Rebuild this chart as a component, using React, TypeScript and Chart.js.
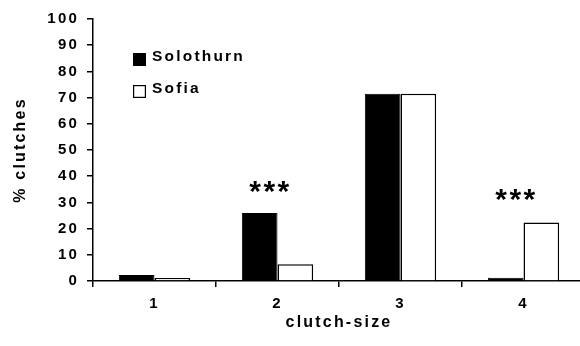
import { useEffect, useRef } from "react";
import { Chart, registerables } from "chart.js";

Chart.register(...registerables);

// Clutch-size distribution (% of clutches) for two populations
const clutchSizes = ["1", "2", "3", "4"];
const solothurn = [2.3, 26, 71.5, 1.2];
const sofia = [1.1, 6.4, 71.5, 22.3];

// Significance marks: category index, label, and height (in % units) of the mark
const sigIndex = [1, 3];
const sigLabels = ["***", "***"];
const sigLevels = [36, 33];

const FONT = "'Liberation Sans', Arial, Helvetica, sans-serif";

const spacingPlugin = {
  id: "letterSpacing",
  beforeDraw(chart: any) {
    (chart.ctx as any).letterSpacing = "2.2px";
  },
};

const legendPlugin = {
  id: "cornerLegend",
  afterDraw(chart: any) {
    const { ctx, chartArea } = chart;
    ctx.save();
    ctx.font = `bold 15.5px ${FONT}`;
    (ctx as any).letterSpacing = "2.2px";
    ctx.textBaseline = "alphabetic";
    ctx.textAlign = "left";
    chart.data.datasets.forEach((ds: any, i: number) => {
      const x = chartArea.left + 40;
      const y = chartArea.top + 34 + i * 32;
      ctx.fillStyle = ds.backgroundColor;
      ctx.fillRect(x, y, 13, 13);
      ctx.strokeStyle = "#000";
      ctx.lineWidth = 1.2;
      ctx.strokeRect(x + 0.6, y + 0.6, 11.8, 11.8);
      ctx.fillStyle = "#000";
      ctx.fillText(ds.label, x + 19, y + 8);
    });
    ctx.restore();
  },
};

const sigPlugin = {
  id: "significance",
  afterDatasetsDraw(chart: any) {
    const { ctx } = chart;
    const xs = chart.scales.x;
    const ys = chart.scales.y;
    const size = 30;
    ctx.save();
    ctx.font = `bold ${size}px ${FONT}`;
    (ctx as any).letterSpacing = "2.5px";
    ctx.fillStyle = "#000";
    ctx.textAlign = "center";
    ctx.textBaseline = "alphabetic";
    sigIndex.forEach((idx, i) => {
      const x = xs.getPixelForValue(idx) - 7;
      const y = ys.getPixelForValue(sigLevels[i]) + size * 0.49;
      ctx.fillText(sigLabels[i], x, y);
    });
    ctx.restore();
  },
};

export default function App() {
  const canvasRef = useRef<HTMLCanvasElement | null>(null);

  useEffect(() => {
    const canvas = canvasRef.current;
    if (!canvas) return;
    const chart = new Chart(canvas, {
      type: "bar",
      data: {
        labels: clutchSizes,
        datasets: [
          {
            label: "Solothurn",
            data: solothurn,
            backgroundColor: "#000000",
            borderColor: "#000000",
            borderWidth: 1,
          },
          {
            label: "Sofia",
            data: sofia,
            backgroundColor: "#ffffff",
            borderColor: "#000000",
            borderWidth: 1.5,
          },
        ],
      },
      options: {
        responsive: false,
        animation: false,
        devicePixelRatio: 1,
        datasets: {
          bar: { categoryPercentage: 0.58, barPercentage: 1.0 },
        },
        layout: { padding: { top: 19, right: 15, left: 0, bottom: 0 } },
        plugins: {
          legend: { display: false },
          tooltip: { enabled: false },
        },
        scales: {
          x: {
            type: "category",
            offset: true,
            afterFit(scale: any) {
              scale.height = 65;
            },
            grid: {
              offset: true,
              drawOnChartArea: false,
              drawTicks: true,
              tickLength: 6,
              color: "#000",
              lineWidth: 1.5,
            },
            border: { display: true, color: "#000", width: 1.5 },
            ticks: {
              autoSkip: false,
              maxRotation: 0,
              padding: 8,
              color: "#000",
              font: { family: FONT, size: 15, weight: "bold" },
            },
            title: {
              display: true,
              text: "clutch-size",
              color: "#000",
              font: { family: FONT, size: 16, weight: "bold" },
              padding: { top: 0, bottom: 13.5 },
            },
          },
          y: {
            min: 0,
            max: 100,
            afterFit(scale: any) {
              scale.width = 93;
            },
            grid: {
              drawOnChartArea: false,
              drawTicks: true,
              tickLength: 6,
              color: "#000",
              lineWidth: 1.5,
            },
            border: { display: true, color: "#000", width: 1.5 },
            ticks: {
              stepSize: 10,
              padding: 8,
              color: "#000",
              font: { family: FONT, size: 15, weight: "bold" },
            },
            title: {
              display: true,
              text: "% clutches",
              color: "#000",
              font: { family: FONT, size: 16, weight: "bold" },
              padding: { top: 10.5, bottom: 0 },
            },
          },
        },
      },
      plugins: [spacingPlugin, sigPlugin, legendPlugin],
    });
    return () => chart.destroy();
  }, []);

  return (
    <div
      style={{
        position: "fixed",
        left: 0,
        top: 0,
        width: 580,
        height: 346,
        overflow: "hidden",
        background: "#fff",
      }}
    >
      <canvas
        ref={canvasRef}
        width={600}
        height={346}
        style={{ display: "block", width: 600, height: 346 }}
      />
    </div>
  );
}
